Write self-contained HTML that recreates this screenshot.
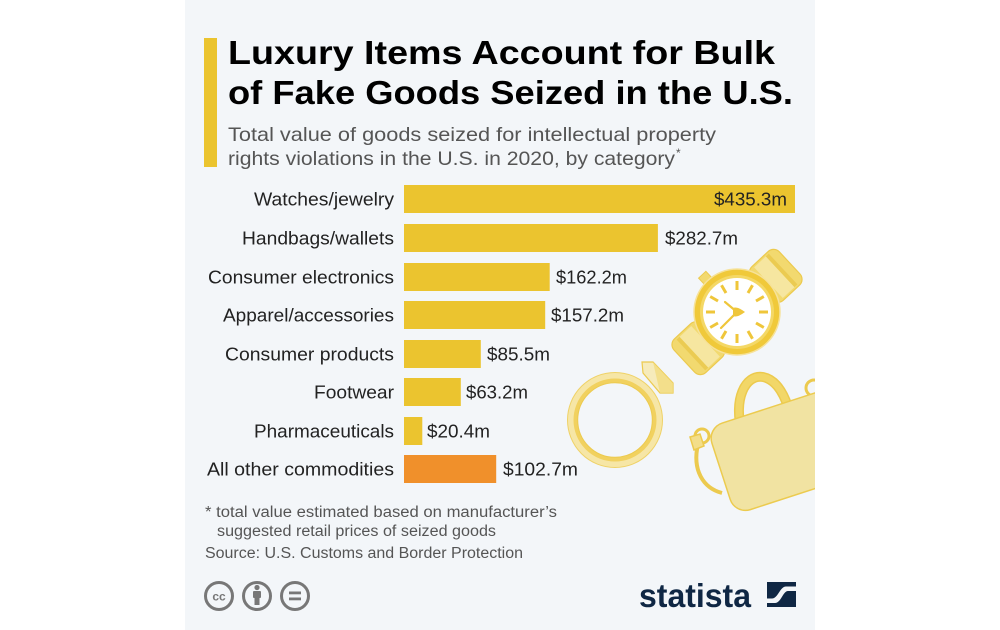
<!DOCTYPE html>
<html>
<head>
<meta charset="utf-8">
<style>
  html, body { margin: 0; padding: 0; background: #ffffff; }
  svg { display: block; }
  text { font-family: "Liberation Sans", Arial, sans-serif; }
</style>
</head>
<body>
<svg width="1000" height="630" viewBox="0 0 1000 630" xmlns="http://www.w3.org/2000/svg">
  <rect x="0" y="0" width="1000" height="630" fill="#ffffff"/>
  <rect x="185" y="0" width="630" height="630" fill="#f3f6f9"/>

  <!-- accent bar -->
  <rect x="204" y="38" width="13" height="129" fill="#ebc42f"/>

  <!-- title -->
  <text x="228" y="64" font-size="33" font-weight="bold" fill="#000" textLength="547" lengthAdjust="spacingAndGlyphs">Luxury Items Account for Bulk</text>
  <text x="228" y="104" font-size="33" font-weight="bold" fill="#000" textLength="565" lengthAdjust="spacingAndGlyphs">of Fake Goods Seized in the U.S.</text>

  <!-- subtitle -->
  <text x="228" y="141" font-size="19.5" fill="#555" textLength="488" lengthAdjust="spacingAndGlyphs">Total value of goods seized for intellectual property</text>
  <text x="228" y="165" font-size="19.5" fill="#555" textLength="447" lengthAdjust="spacingAndGlyphs">rights violations in the U.S. in 2020, by category</text>
  <text x="676" y="157" font-size="12" fill="#555">*</text>

  <!-- illustrations -->
  <!-- ring -->
  <g>
    <circle cx="615" cy="420" r="44" fill="none" stroke="#f6e6a6" stroke-width="7"/>
    <circle cx="615" cy="420" r="47.5" fill="none" stroke="#efd267" stroke-width="1"/>
    <circle cx="615" cy="420" r="39.5" fill="none" stroke="#f1d15f" stroke-width="4"/>
    <circle cx="615" cy="420" r="37.3" fill="none" stroke="#ecca4e" stroke-width="1"/>
    <polygon points="642,362 653,362 673,383 673,393 660,393 643,373" fill="#f6ebbb" stroke="#ecca4e" stroke-width="1.2"/>
    <polygon points="653,362 673,383 673,393 660,393" fill="#f3dc80" opacity="0.8"/>
  </g>

  <!-- watch -->
  <g transform="rotate(-43 737 312)">
    <rect x="771" y="289" width="38" height="46" rx="8" fill="#f2d96f" stroke="#ecca4e" stroke-width="1.2"/>
    <rect x="780" y="291" width="16" height="42" fill="#f6e6a0"/>
    <rect x="796" y="291" width="4" height="42" fill="#ebcb52"/>
    <rect x="665" y="289" width="38" height="46" rx="8" fill="#f2d96f" stroke="#ecca4e" stroke-width="1.2"/>
    <rect x="678" y="291" width="16" height="42" fill="#f6e6a0"/>
    <rect x="674" y="291" width="4" height="42" fill="#ebcb52"/>
    <rect x="732" y="261" width="10" height="9" fill="#f2d96f" stroke="#ecca4e" stroke-width="1"/>
  </g>
  <circle cx="737" cy="312" r="43" fill="#f0c93a" stroke="#f6e29a" stroke-width="1.5"/>
  <circle cx="737" cy="312" r="37" fill="#f4d866"/>
  <circle cx="737" cy="312" r="34" fill="#ffffff"/>
  <g stroke="#efc63a" stroke-width="3" stroke-linecap="butt">
    <line x1="737" y1="290" x2="737" y2="281"/>
    <line x1="748" y1="293" x2="752.5" y2="285.2"/>
    <line x1="756" y1="301" x2="763.8" y2="296.5"/>
    <line x1="759" y1="312" x2="768" y2="312"/>
    <line x1="756" y1="323" x2="763.8" y2="327.5"/>
    <line x1="748" y1="331" x2="752.5" y2="338.8"/>
    <line x1="737" y1="334" x2="737" y2="343"/>
    <line x1="726" y1="331" x2="721.5" y2="338.8"/>
    <line x1="718" y1="323" x2="710.2" y2="327.5"/>
    <line x1="715" y1="312" x2="706" y2="312"/>
    <line x1="718" y1="301" x2="710.2" y2="296.5"/>
    <line x1="726" y1="293" x2="721.5" y2="285.2"/>
  </g>
  <g stroke="#efc63a" stroke-width="2.2" stroke-linecap="round">
    <line x1="737" y1="312" x2="725" y2="302"/>
    <line x1="737" y1="312" x2="721" y2="328"/>
  </g>
  <path d="M733,308 Q737,306 745,312 Q737,318 733,316 Z" fill="#efc63a"/>
  <circle cx="737" cy="312" r="4" fill="#efc63a"/>

  <!-- handbag -->
  <path d="M742,432 C733,400 745,374 763,377 C778,380 786,398 790,414" fill="none" stroke="#ecca4e" stroke-width="10" stroke-linecap="round"/>
  <path d="M742,432 C733,400 745,374 763,377 C778,380 786,398 790,414" fill="none" stroke="#f2d768" stroke-width="7" stroke-linecap="round"/>
  <path d="M698,444 C692,470 703,488 722,493" fill="none" stroke="#ecca4e" stroke-width="4"/>
  <circle cx="702" cy="436" r="7" fill="none" stroke="#ecca4e" stroke-width="3"/>
  <path d="M690,437 L700,434 L704,446 L694,450 Z" fill="#f3de8a" stroke="#ecca4e" stroke-width="1.5"/>
  <circle cx="814" cy="388" r="8" fill="none" stroke="#ecca4e" stroke-width="3"/>
  <g transform="rotate(-18 707 428)">
    <rect x="707" y="428" width="170" height="91" rx="16" fill="#f1e3a2" stroke="#eccb4f" stroke-width="1.5"/>
  </g>

  <!-- clip illustrations outside panel -->
  <rect x="815" y="0" width="185" height="630" fill="#ffffff"/>

  <!-- bars -->
  <rect x="404" y="185" width="391" height="28" fill="#ebc42f"/>
  <rect x="404" y="224" width="253.9" height="28" fill="#ebc42f"/>
  <rect x="404" y="263" width="145.7" height="28" fill="#ebc42f"/>
  <rect x="404" y="301" width="141.2" height="28" fill="#ebc42f"/>
  <rect x="404" y="340" width="76.8" height="28" fill="#ebc42f"/>
  <rect x="404" y="378" width="56.8" height="28" fill="#ebc42f"/>
  <rect x="404" y="417" width="18.3" height="28" fill="#ebc42f"/>
  <rect x="404" y="455" width="92.2" height="28" fill="#f0902b"/>

  <!-- category labels -->
  <g font-size="18" fill="#222">
    <text x="254" y="205.5" textLength="140" lengthAdjust="spacingAndGlyphs">Watches/jewelry</text>
    <text x="242" y="244.5" textLength="152" lengthAdjust="spacingAndGlyphs">Handbags/wallets</text>
    <text x="208" y="283.5" textLength="186" lengthAdjust="spacingAndGlyphs">Consumer electronics</text>
    <text x="223" y="321.5" textLength="171" lengthAdjust="spacingAndGlyphs">Apparel/accessories</text>
    <text x="225" y="360.5" textLength="169" lengthAdjust="spacingAndGlyphs">Consumer products</text>
    <text x="314" y="398.5" textLength="80" lengthAdjust="spacingAndGlyphs">Footwear</text>
    <text x="254" y="437.5" textLength="140" lengthAdjust="spacingAndGlyphs">Pharmaceuticals</text>
    <text x="207" y="475.5" textLength="187" lengthAdjust="spacingAndGlyphs">All other commodities</text>
  </g>

  <!-- value labels -->
  <g font-size="18" fill="#222">
    <text x="714" y="205.5" textLength="73" lengthAdjust="spacingAndGlyphs">$435.3m</text>
    <text x="665" y="244.5" textLength="73" lengthAdjust="spacingAndGlyphs">$282.7m</text>
    <text x="556" y="283.5" textLength="71" lengthAdjust="spacingAndGlyphs">$162.2m</text>
    <text x="551" y="321.5" textLength="73" lengthAdjust="spacingAndGlyphs">$157.2m</text>
    <text x="487" y="360.5" textLength="63" lengthAdjust="spacingAndGlyphs">$85.5m</text>
    <text x="466" y="398.5" textLength="62" lengthAdjust="spacingAndGlyphs">$63.2m</text>
    <text x="427" y="437.5" textLength="63" lengthAdjust="spacingAndGlyphs">$20.4m</text>
    <text x="503" y="475.5" textLength="75" lengthAdjust="spacingAndGlyphs">$102.7m</text>
  </g>

  <!-- footnotes -->
  <g font-size="15.5" fill="#555">
    <text x="205" y="517" textLength="352" lengthAdjust="spacingAndGlyphs">* total value estimated based on manufacturer’s</text>
    <text x="217" y="536" textLength="279" lengthAdjust="spacingAndGlyphs">suggested retail prices of seized goods</text>
    <text x="205" y="558" textLength="318" lengthAdjust="spacingAndGlyphs">Source: U.S. Customs and Border Protection</text>
  </g>

  <!-- CC icons -->
  <g fill="none" stroke="#777" stroke-width="3">
    <circle cx="219" cy="596" r="13.5"/>
    <circle cx="257" cy="596" r="13.5"/>
    <circle cx="295" cy="596" r="13.5"/>
  </g>
  <text x="219" y="600.5" font-size="12" font-weight="bold" fill="#777" text-anchor="middle">cc</text>
  <circle cx="257" cy="587.5" r="2.6" fill="#777"/>
  <rect x="253" y="591" width="8" height="7" rx="1" fill="#777"/>
  <rect x="254.5" y="597" width="5" height="8" fill="#777"/>
  <rect x="289" y="591.5" width="12" height="2.8" fill="#777"/>
  <rect x="289" y="597.5" width="12" height="2.8" fill="#777"/>

  <!-- statista logo -->
  <text x="639" y="607" font-size="33" font-weight="bold" fill="#0f2744" textLength="112" lengthAdjust="spacingAndGlyphs">statista</text>
  <rect x="767" y="582" width="29" height="25" fill="#0f2744"/>
  <path d="M767,598.5 L772,598.5 C778,598.5 780,586.5 786,586.5 L796,586.5 L796,591 L788,591 C783,591 781,603 775,603 L767,603 Z" fill="#f3f6f9"/>
</svg>
</body>
</html>
